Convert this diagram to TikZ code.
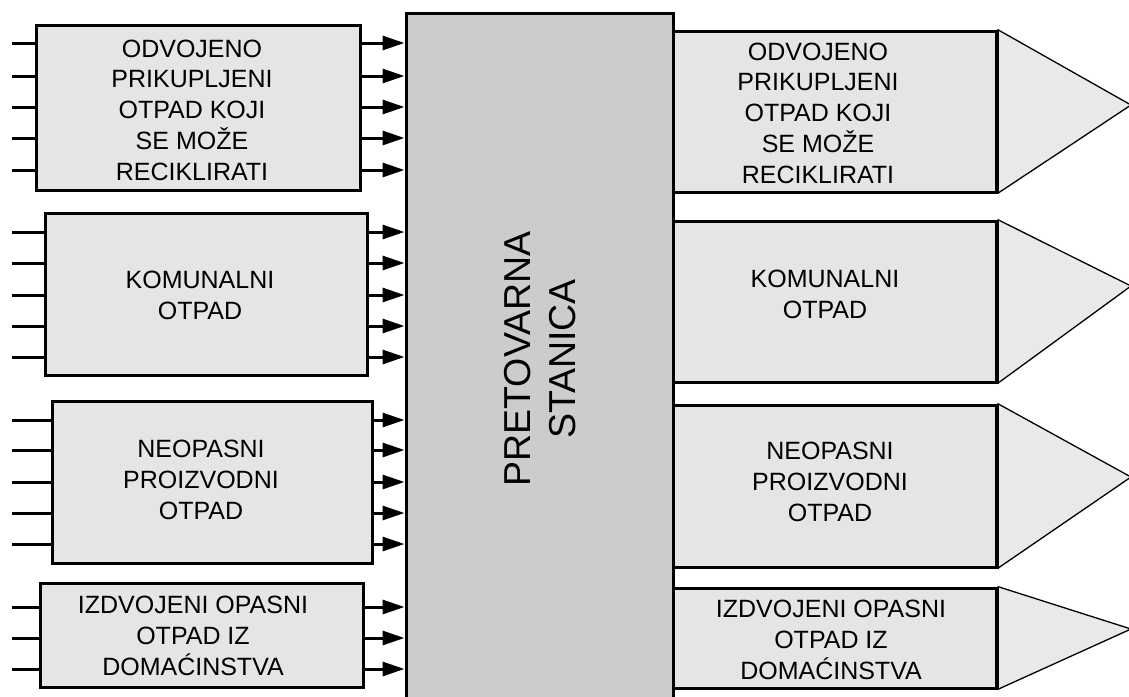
\documentclass[tikz,border=0pt]{standalone}
\usepackage{fontspec}
\setmainfont{Liberation Sans}
\usetikzlibrary{arrows.meta}
\definecolor{boxgray}{gray}{0.9}
\definecolor{centgray}{gray}{0.8}
\definecolor{trigray}{gray}{0.915}
\tikzset{
  box/.style={draw, line width=3pt, fill=boxgray, inner sep=0pt},
  centbox/.style={draw, line width=3pt, fill=centgray, inner sep=0pt},
  lbl/.style={font=\fontsize{25}{30.8}\selectfont, align=center, inner sep=0pt},
  biglbl/.style={font=\fontsize{37.5}{45}\selectfont, align=center, inner sep=0pt, rotate=90},
  feed/.style={line width=3pt},
  into/.style={line width=3pt, -{Triangle[length=22pt,width=14pt]}},
  cone/.style={fill=trigray},
  coneedge/.style={line width=1.3pt, line join=miter},
}
\begin{document}
\begin{tikzpicture}[x=1pt,y=-1pt]
\useasboundingbox (0,0) rectangle (1129,696);
\fill[white] (0,0) rectangle (1129,696);

% central station
\node[centbox, minimum width=267pt, minimum height=697pt] (C) at (539.5,361.5) {};
\node[biglbl] (Ct) at (540,359) {PRETOVARNA\\STANICA};

% left boxes
\node[box, minimum width=324pt, minimum height=165pt] (L1) at (198,107.5) {};
\node[lbl] (L1t) at (192,110) {ODVOJENO\\PRIKUPLJENI\\OTPAD KOJI\\SE MOŽE\\RECIKLIRATI};
\node[box, minimum width=322pt, minimum height=162pt] (L2) at (206,294) {};
\node[lbl] (L2t) at (200,295) {KOMUNALNI\\OTPAD};
\node[box, minimum width=320pt, minimum height=162pt] (L3) at (212,482) {};
\node[lbl] (L3t) at (201,480) {NEOPASNI\\PROIZVODNI\\OTPAD};
\node[box, minimum width=323pt, minimum height=104pt] (L4) at (201.5,635) {};
\node[lbl] (L4t) at (193,636) {IZDVOJENI OPASNI\\OTPAD IZ\\DOMAĆINSTVA};

% inputs and arrows
\foreach \y [count=\i] in {43,76,107,138,170} {
  \coordinate (a\i) at (12,\y);
  \draw[feed] (a\i) -- (L1.west |- a\i);
  \draw[into] (L1.east |- a\i) -- (C.west |- a\i);
}
\foreach \y [count=\i] in {232,263,295,326,357} {
  \coordinate (b\i) at (12,\y);
  \draw[feed] (b\i) -- (L2.west |- b\i);
  \draw[into] (L2.east |- b\i) -- (C.west |- b\i);
}
\foreach \y [count=\i] in {420,450,482,513,544} {
  \coordinate (c\i) at (12,\y);
  \draw[feed] (c\i) -- (L3.west |- c\i);
  \draw[into] (L3.east |- c\i) -- (C.west |- c\i);
}
\foreach \y [count=\i] in {607,638,669} {
  \coordinate (d\i) at (12,\y);
  \draw[feed] (d\i) -- (L4.west |- d\i);
  \draw[into] (L4.east |- d\i) -- (C.west |- d\i);
}

% right boxes with cones
\coordinate (T1) at (1131,105);
\coordinate (T2) at (1131,286);
\coordinate (T3) at (1131,477);
\coordinate (T4) at (1131,629);

\node[box, minimum width=323pt, minimum height=161pt] (R1) at (834.5,111.5) {};
\node[box, minimum width=323pt, minimum height=161pt] (R2) at (834.5,301.5) {};
\node[box, minimum width=323pt, minimum height=162pt] (R3) at (834.5,486) {};
\node[box, minimum width=323pt, minimum height=100pt] (R4) at (834.5,638) {};

\foreach \r in {1,2,3,4} {
  \fill[cone] (R\r.north east) -- (T\r) -- (R\r.south east) -- cycle;
  \draw[coneedge] (R\r.north east) -- (T\r) -- (R\r.south east);
}
\foreach \r in {1,2,3,4} {
  \draw[line width=3pt] (R\r.north east) -- (R\r.south east);
}

\node[lbl] (R1t) at (818,113) {ODVOJENO\\PRIKUPLJENI\\OTPAD KOJI\\SE MOŽE\\RECIKLIRATI};
\node[lbl] (R2t) at (825,294) {KOMUNALNI\\OTPAD};
\node[lbl] (R3t) at (830,482) {NEOPASNI\\PROIZVODNI\\OTPAD};
\node[lbl] (R4t) at (831,640) {IZDVOJENI OPASNI\\OTPAD IZ\\DOMAĆINSTVA};
\end{tikzpicture}
\end{document}
